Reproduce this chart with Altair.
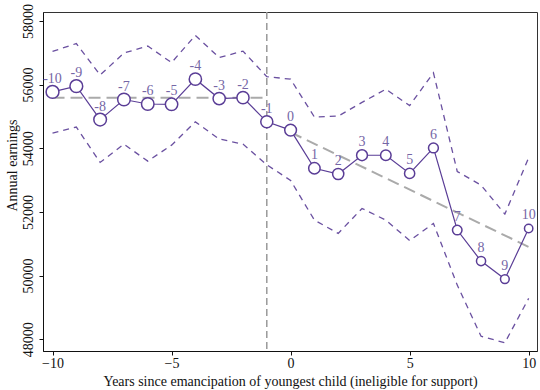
import altair as alt
import pandas as pd

years = list(range(-10, 11))
estimate = [55770, 55950, 54900, 55530, 55390, 55380, 56170, 55560, 55590, 54830,
            54570, 53370, 53190, 53780, 53780, 53210, 54010, 51430, 50455, 49890, 51480]
upper = [57040, 57290, 56300, 56990, 57210, 56690, 57545, 56850, 57050, 56250,
         56170, 54980, 55010, 55440, 55855, 55340, 56370, 53270, 52840, 51930, 53700]
lower = [54475, 54665, 53555, 54128, 53595, 54097, 54829, 54290, 54130, 53480,
         52990, 51742, 51324, 52109, 51742, 51100, 51638, 49700, 48095, 47889, 49283]
labels = [str(y) for y in years]

pre_fit_x = [-10, -1]
pre_fit_y = [55590, 55590]
post_fit_x = [0, 10]
post_fit_y = [54500, 50900]
event_year = -1

x_ticks = [-10, -5, 0, 5, 10]
y_ticks = [48000, 50000, 52000, 54000, 56000, 58000]

df = pd.DataFrame({"t": years, "est": estimate, "up": upper, "lo": lower, "lab": labels})
pre = pd.DataFrame({"t": pre_fit_x, "v": pre_fit_y})
post = pd.DataFrame({"t": post_fit_x, "v": post_fit_y})
vline = pd.DataFrame({"t": [event_year]})

FONT = "'Liberation Serif', 'Times New Roman', Times, serif"
PURPLE = "#5a3d96"
LABEL = "#7566a6"

xscale = alt.Scale(domain=[-10.4, 10.35], nice=False, zero=False)
yscale = alt.Scale(domain=[47630, 58280], nice=False, zero=False)

xaxis = alt.Axis(values=x_ticks, title="Years since emancipation of youngest child (ineligible for support)",
                 grid=False, tickSize=4, labelPadding=1, labelFontSize=14, titleFontSize=14,
                 labelFont=FONT, titleFont=FONT, titleFontWeight="normal", labelColor="#111",
                 titleColor="#111", domainColor="#111", tickColor="#111",
                 titleY=30, titleBaseline="middle")
yaxis = alt.Axis(values=y_ticks, title="Annual earnings", grid=False, tickSize=4,
                 labelAngle=-90, labelAlign="center", labelBaseline="bottom", labelPadding=4,
                 labelFontSize=14, titleFontSize=14, labelFont=FONT, titleFont=FONT,
                 titleFontWeight="normal", labelColor="#111", titleColor="#111",
                 domainColor="#111", tickColor="#111", format="d",
                 titleX=-31, titleY=153, titleAlign="center", titleBaseline="middle")

base = alt.Chart(df)

x_enc = alt.X("t:Q", scale=xscale, axis=xaxis)

ci_up = base.mark_line(color=PURPLE, strokeDash=[6, 5], strokeWidth=1.3, opacity=0.9).encode(
    x=x_enc, y=alt.Y("up:Q", scale=yscale, axis=yaxis))
ci_lo = base.mark_line(color=PURPLE, strokeDash=[6, 5], strokeWidth=1.3, opacity=0.9).encode(
    x="t:Q", y="lo:Q")

pre_line = alt.Chart(pre).mark_line(color="#aaaaaa", strokeDash=[12, 6], strokeWidth=2).encode(
    x="t:Q", y="v:Q")
post_line = alt.Chart(post).mark_line(color="#aaaaaa", strokeDash=[12, 6], strokeWidth=2).encode(
    x="t:Q", y="v:Q")
vrule = alt.Chart(vline).mark_rule(color="#999999", strokeDash=[7, 4], strokeWidth=1.5).encode(
    x="t:Q")

main_line = base.mark_line(color=PURPLE, strokeWidth=1.2).encode(x="t:Q", y="est:Q")
pts = base.mark_point(shape="circle", filled=False, fill="white", fillOpacity=1,
                      color=PURPLE, strokeWidth=1.5, opacity=1).encode(
    x="t:Q", y="est:Q",
    size=alt.Size("t:Q", scale=alt.Scale(domain=[-10, -1, 10], range=[165, 145, 70]), legend=None))
txt = base.mark_text(font=FONT, fontSize=14, color=LABEL, dy=-13, baseline="middle").encode(
    x="t:Q", y="est:Q", text="lab:N")

chart = alt.layer(ci_up, ci_lo, pre_line, post_line, vrule, main_line, pts, txt).properties(
    width=494, height=339,
    autosize=alt.AutoSizeParams(type="none"),
    padding={"left": 43, "top": 12, "right": 3, "bottom": 39},
    background="white",
).configure_view(stroke="#333333", strokeWidth=1)

chart.save("out.html", embed_options={"renderer": "svg", "actions": False})
